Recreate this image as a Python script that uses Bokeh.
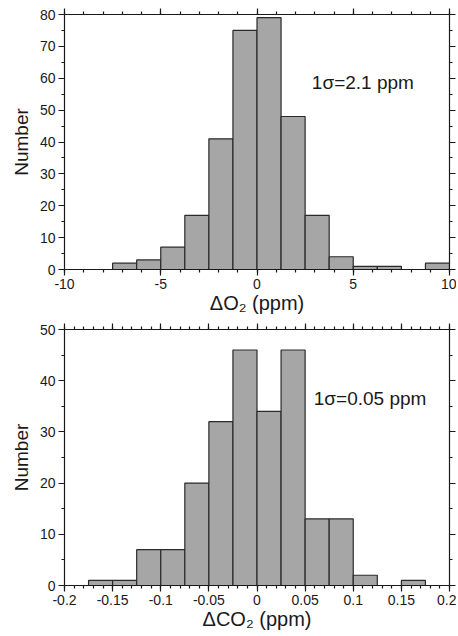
from bokeh.plotting import figure
from bokeh.models import LinearAxis, FixedTicker, Range1d
from bokeh.layouts import column
from bokeh.core.properties import value
from bokeh.embed import file_html
from bokeh.resources import INLINE

# ---- data: ΔO2 histogram ----
o2_bin_left = [-7.5, -6.25, -5.0, -3.75, -2.5, -1.25, 0.0, 1.25, 2.5, 3.75, 5.0, 6.25, 8.75]
o2_counts = [2, 3, 7, 17, 41, 75, 79, 48, 17, 4, 1, 1, 2]
o2_bin_width = 1.25
o2_x_ticks = [-10, -5, 0, 5, 10]
o2_x_minor = list(range(-10, 11))
o2_x_labels = ["-10", "-5", "0", "5", "10"]
o2_y_ticks = [0, 10, 20, 30, 40, 50, 60, 70, 80]
o2_y_minor = list(range(0, 81, 5))
o2_note = "1σ=2.1 ppm"
o2_xlabel = "ΔO₂ (ppm)"

# ---- data: ΔCO2 histogram ----
co2_bin_left = [-0.175, -0.15, -0.125, -0.1, -0.075, -0.05, -0.025, 0.0, 0.025, 0.05, 0.075, 0.1, 0.15]
co2_counts = [1, 1, 7, 7, 20, 32, 46, 34, 46, 13, 13, 2, 1]
co2_bin_width = 0.025
co2_x_ticks = [-0.2, -0.15, -0.1, -0.05, 0.0, 0.05, 0.1, 0.15, 0.2]
co2_x_minor = [round(-0.2 + 0.01 * i, 2) for i in range(41)]
co2_x_labels = ["-0.2", "-0.15", "-0.1", "-0.05", "0", "0.05", "0.1", "0.15", "0.2"]
co2_y_ticks = [0, 10, 20, 30, 40, 50]
co2_y_minor = list(range(0, 51, 5))
co2_note = "1σ=0.05 ppm"
co2_xlabel = "ΔCO₂ (ppm)"

FONT = "Liberation Sans"
INK = "#1a1a1a"


def style_axis(ax, ticks, minor, labels, show=True, label_standoff=0):
    ax.ticker = FixedTicker(ticks=ticks, minor_ticks=minor)
    ax.major_tick_out = 6
    ax.major_tick_in = 0
    ax.minor_tick_out = 3
    ax.minor_tick_in = 0
    ax.axis_line_color = INK
    ax.axis_line_width = 1.2
    ax.major_tick_line_color = INK
    ax.minor_tick_line_color = INK
    ax.major_tick_line_width = 1.2
    ax.minor_tick_line_width = 1.2
    ax.major_label_text_font = FONT
    ax.major_label_text_font_size = "14px"
    ax.major_label_text_color = INK
    if show:
        ax.major_label_standoff = 3
        ax.major_label_overrides = {t: l for t, l in zip(ticks, labels)}
    else:
        ax.major_label_standoff = 0
        ax.major_label_overrides = {t: "" for t in ticks}
    ax.axis_label_text_font = FONT
    ax.axis_label_text_font_size = "20px"
    ax.axis_label_text_font_style = "normal"
    ax.axis_label_text_color = INK
    ax.axis_label_standoff = label_standoff


def make_panel(bin_left, counts, width, xr, yr, xt, xm, xl, yt, ym, xlabel,
               note, note_x, note_y, height, top, bottom):
    p = figure(width=456, height=height, output_backend="svg", toolbar_location=None,
               x_range=Range1d(*xr), y_range=Range1d(*yr),
               min_border_left=64, min_border_right=7, min_border_top=top, min_border_bottom=bottom)
    p.background_fill_color = "white"
    p.border_fill_color = "white"
    p.outline_line_color = None
    p.xgrid.visible = False
    p.ygrid.visible = False
    right = [b + width for b in bin_left]
    p.quad(left=bin_left, right=right, bottom=0, top=counts,
           fill_color="#a6a6a6", line_color="#2a2a2a", line_width=1.2)
    style_axis(p.xaxis[0], xt, xm, xl, True, 0)
    p.xaxis[0].axis_label = xlabel
    style_axis(p.yaxis[0], yt, ym, [str(t) for t in yt], True, 5)
    p.yaxis[0].axis_label = "Number"
    p.yaxis[0].axis_label_text_font_size = "19px"
    top_ax = LinearAxis()
    style_axis(top_ax, xt, xm, None, False)
    p.add_layout(top_ax, "above")
    right_ax = LinearAxis()
    style_axis(right_ax, yt, ym, None, False)
    p.add_layout(right_ax, "right")
    p.text(x=[note_x], y=[note_y], text=[note], text_font=value(FONT), text_font_size="19px",
           text_color=INK, text_baseline="alphabetic", text_align="left")
    return p


p1 = make_panel(o2_bin_left, o2_counts, o2_bin_width, (-10, 10), (0, 80),
                o2_x_ticks, o2_x_minor, o2_x_labels, o2_y_ticks, o2_y_minor,
                o2_xlabel, o2_note, 2.85, 58.7, 323, 14, 54)
p2 = make_panel(co2_bin_left, co2_counts, co2_bin_width, (-0.2, 0.2), (0, 50),
                co2_x_ticks, co2_x_minor, co2_x_labels, co2_y_ticks, co2_y_minor,
                co2_xlabel, co2_note, 0.059, 36.5, 311, 6, 49)

layout = column(p1, p2)
open("out.html", "w").write(file_html(layout, INLINE))
